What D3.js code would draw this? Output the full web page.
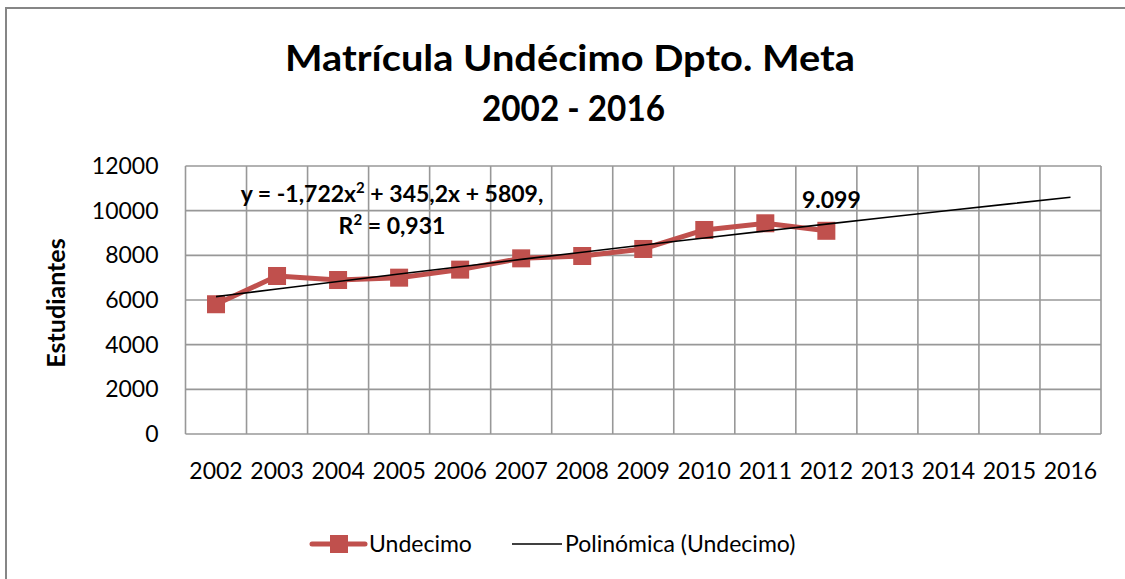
<html>
<head>
  <script src="https://d3js.org/d3.v7.min.js"></script>
  <style>
    body { margin: 0; background: white; }
    text { font-family: Lato, "Open Sans", sans-serif; fill: black; }
    .grid line { stroke: #989898; stroke-width: 1.6px; }
    .title { font-size: 36px; font-weight: bold; }
    .tick-label { font-size: 23px; }
    .eq { font-size: 23px; font-weight: bold; }
  </style>
</head>
<body>
  <svg id="chart" width="1125" height="579"></svg>
  <script>
    // data
    const years = ["2002", "2003", "2004", "2005", "2006", "2007", "2008", "2009", "2010", "2011", "2012", "2013", "2014", "2015", "2016"];
    const undecimo = [5810, 7075, 6895, 7000, 7360, 7865, 7970, 8285, 9135, 9435, 9099];
    const yTicks = [0, 2000, 4000, 6000, 8000, 10000, 12000];
    // polynomial trend: a*x^2 + b*x + c, x = 1..15
    const trendCoef = [-1.722, 345.2, 5809];

    const svg = d3.select("svg#chart");
    const width = +svg.attr("width");
    const height = +svg.attr("height");
    const margin = { top: 166, right: 24, bottom: 145, left: 185.5 };
    const chartWidth = width - margin.left - margin.right;
    const chartHeight = height - margin.top - margin.bottom;

    // outer frame (right / bottom edges fall off the picture)
    svg.append("rect")
      .attr("x", 6).attr("y", 8)
      .attr("width", width + 10).attr("height", height + 10)
      .attr("fill", "white")
      .attr("stroke", "#868686")
      .attr("stroke-width", 2);

    const xScale = d3.scaleBand().domain(years).range([0, chartWidth]).padding(0);
    const yScale = d3.scaleLinear().domain([0, 12000]).range([chartHeight, 0]);

    const chartArea = svg.append("g")
      .attr("transform", `translate(${margin.left},${margin.top})`);

    // gridlines
    const grid = chartArea.append("g").attr("class", "grid");
    grid.selectAll("line.h").data(yTicks).join("line").attr("class", "h")
      .attr("x1", 0).attr("x2", chartWidth)
      .attr("y1", d => yScale(d)).attr("y2", d => yScale(d));
    const bounds = years.map(y => xScale(y)).concat([chartWidth]);
    grid.selectAll("line.v").data(bounds).join("line").attr("class", "v")
      .attr("x1", d => d).attr("x2", d => d)
      .attr("y1", 0).attr("y2", chartHeight);

    // y tick labels
    chartArea.selectAll("text.ylab").data(yTicks).join("text")
      .attr("class", "tick-label ylab")
      .attr("x", -27)
      .attr("y", d => yScale(d))
      .attr("dy", "0.35em")
      .attr("text-anchor", "end")
      .text(d => d);

    // x tick labels
    chartArea.selectAll("text.xlab").data(years).join("text")
      .attr("class", "tick-label xlab")
      .attr("x", d => xScale(d) + xScale.bandwidth() / 2)
      .attr("y", chartHeight + 45)
      .attr("text-anchor", "middle")
      .text(d => d);

    const cx = i => xScale(years[i]) + xScale.bandwidth() / 2;

    // series line + markers
    const line = d3.line().x((d, i) => cx(i)).y(d => yScale(d));
    chartArea.append("path")
      .datum(undecimo)
      .attr("fill", "none")
      .attr("stroke", "#C0504D")
      .attr("stroke-width", 5)
      .attr("stroke-linejoin", "round")
      .attr("d", line);

    chartArea.selectAll("rect.marker").data(undecimo).join("rect")
      .attr("class", "marker")
      .attr("x", (d, i) => cx(i) - 9)
      .attr("y", d => yScale(d) - 9)
      .attr("width", 18).attr("height", 18)
      .attr("fill", "#C0504D");

    // trendline
    const trend = years.map((y, i) => {
      const x = i + 1;
      return trendCoef[0] * x * x + trendCoef[1] * x + trendCoef[2];
    });
    chartArea.append("path")
      .datum(trend)
      .attr("fill", "none")
      .attr("stroke", "black")
      .attr("stroke-width", 1.6)
      .attr("d", d3.line().x((d, i) => cx(i)).y(d => yScale(d)).curve(d3.curveNatural));

    // data label on the last point
    const last = undecimo.length - 1;
    chartArea.append("text")
      .attr("class", "eq")
      .attr("x", cx(last) + 5)
      .attr("y", yScale(undecimo[last]) - 23)
      .attr("text-anchor", "middle")
      .text("9.099");

    // trend equation (superscripts as small raised tspans)
    const eq1 = svg.append("text").attr("class", "eq")
      .attr("x", 392).attr("y", 202)
      .attr("text-anchor", "middle");
    eq1.append("tspan").text("y = -1,722x");
    eq1.append("tspan").attr("dy", -9).style("font-size", "15px").text("2");
    eq1.append("tspan").attr("dy", 9).text(" + 345,2x + 5809,");

    const eq2 = svg.append("text").attr("class", "eq")
      .attr("x", 392).attr("y", 234)
      .attr("text-anchor", "middle");
    eq2.append("tspan").text("R");
    eq2.append("tspan").attr("dy", -9).style("font-size", "15px").text("2");
    eq2.append("tspan").attr("dy", 9).text(" = 0,931");

    // title
    svg.append("text").attr("class", "title")
      .attr("x", 285).attr("y", 71)
      .attr("textLength", 570).attr("lengthAdjust", "spacingAndGlyphs")
      .text("Matrícula Undécimo Dpto. Meta");
    svg.append("text").attr("class", "title")
      .attr("x", 482).attr("y", 121)
      .attr("textLength", 183).attr("lengthAdjust", "spacingAndGlyphs")
      .text("2002 - 2016");

    // y axis title
    svg.append("text")
      .attr("text-anchor", "middle")
      .attr("transform", "translate(65,303)rotate(-90)")
      .style("font-size", "25px")
      .style("font-weight", "bold")
      .text("Estudiantes");

    // legend
    const legend = svg.append("g").attr("transform", "translate(0,544)");
    legend.append("line")
      .attr("x1", 312).attr("x2", 365).attr("y1", 0).attr("y2", 0)
      .attr("stroke", "#C0504D").attr("stroke-width", 5).attr("stroke-linecap", "round");
    legend.append("rect")
      .attr("x", 330).attr("y", -9).attr("width", 18).attr("height", 18)
      .attr("fill", "#C0504D");
    legend.append("text")
      .attr("class", "tick-label")
      .attr("x", 369).attr("y", 0).attr("dy", "0.35em")
      .text("Undecimo");
    legend.append("line")
      .attr("x1", 512).attr("x2", 562).attr("y1", 0).attr("y2", 0)
      .attr("stroke", "black").attr("stroke-width", 1.6);
    legend.append("text")
      .attr("class", "tick-label")
      .attr("x", 565).attr("y", 0).attr("dy", "0.35em")
      .text("Polinómica (Undecimo)");
  </script>
</body>
</html>
